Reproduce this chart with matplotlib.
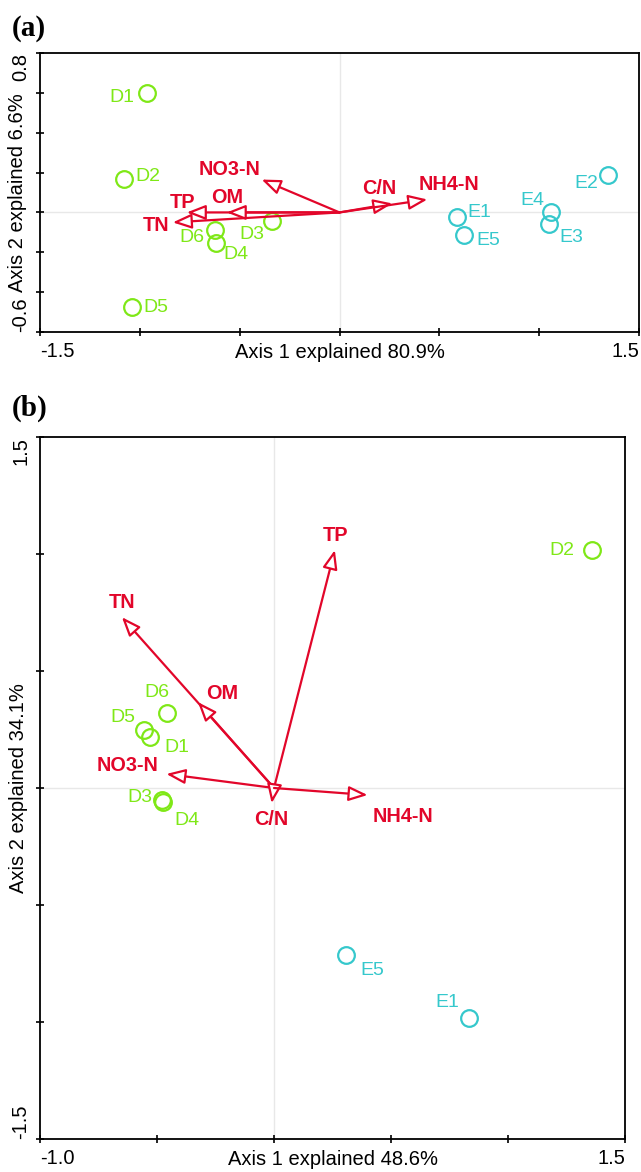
import matplotlib
matplotlib.use("Agg")
import matplotlib.pyplot as plt
from matplotlib.patches import FancyArrowPatch

plt.rcParams['font.family'] = ['Liberation Sans', 'DejaVu Sans']

RED = '#e2062a'
GREEN = '#7fe817'
CYAN = '#35c8cc'

# ---- panel (a) data ----
a_sites = ['D1', 'D2', 'D3', 'D4', 'D5', 'D6', 'E1', 'E2', 'E3', 'E4', 'E5']
a_x = [-0.965, -1.08, -0.34, -0.62, -1.04, -0.625, 0.59, 1.345, 1.05, 1.06, 0.625]
a_y = [0.60, 0.17, -0.045, -0.155, -0.475, -0.09, -0.025, 0.19, -0.06, 0.0, -0.115]

a_vars = ['TP', 'OM', 'TN', 'NO3-N', 'C/N', 'NH4-N']
a_vx = [-0.765, -0.565, -0.835, -0.39, 0.265, 0.44]
a_vy = [0.0, 0.0, -0.05, 0.165, 0.045, 0.065]

# ---- panel (b) data ----
b_sites = ['D1', 'D2', 'D3', 'D4', 'D5', 'D6', 'E1', 'E5']
b_x = [-0.53, 1.36, -0.48, -0.475, -0.556, -0.457, 0.833, 0.308]
b_y = [0.22, 1.017, -0.05, -0.06, 0.248, 0.32, -0.983, -0.714]

b_vars = ['TP', 'TN', 'OM', 'NO3-N', 'C/N', 'NH4-N']
b_vx = [0.26, -0.65, -0.325, -0.46, -0.01, 0.40]
b_vy = [1.017, 0.73, 0.367, 0.06, -0.065, -0.03]

# label offsets (pixels) for layout
a_site_off = {'D1': (-25, -5), 'D2': (24, 2), 'D3': (-20, -13), 'D4': (20, -11),
              'D5': (24, 0), 'D6': (-23, -7), 'E1': (22, 5), 'E2': (-22, -9),
              'E3': (22, -13), 'E4': (-19, 12), 'E5': (24, -5)}
a_var_off = {'TP': (-4, 10), 'OM': (0, 15), 'TN': (-17, -3), 'NO3-N': (-32, 10),
             'C/N': (-13, 15), 'NH4-N': (22, 15)}
b_site_off = {'D1': (27, -11), 'D2': (-30, 0), 'D3': (-22, 2), 'D4': (24, -18),
              'D5': (-21, 12), 'D6': (-10, 21), 'E1': (-22, 16), 'E5': (26, -15)}
b_var_off = {'TP': (1, 15), 'TN': (0, 15), 'OM': (24, 9), 'NO3-N': (-39, 8),
             'C/N': (0, -16), 'NH4-N': (35, -21)}


def draw_panel(ax, sites, xs, ys, site_off, vars_, vx, vy, var_off):
    ax.axhline(0, color='#e8e8e8', lw=1, zorder=0)
    ax.axvline(0, color='#e8e8e8', lw=1, zorder=0)
    for s, x, y in zip(sites, xs, ys):
        c = GREEN if s.startswith('D') else CYAN
        ax.plot(x, y, 'o', ms=12, mfc='none', mec=c, mew=1.6, zorder=3)
        ax.annotate(s, (x, y), xytext=site_off[s], textcoords='offset pixels',
                    ha='center', va='center', color=c, fontsize=14)
    for v, x, y in zip(vars_, vx, vy):
        arr = FancyArrowPatch((0, 0), (x, y), arrowstyle='-|>,head_length=1.15,head_width=0.45',
                              mutation_scale=10, shrinkA=0, shrinkB=0,
                              fc='white', ec=RED, lw=1.6, zorder=4)
        ax.add_patch(arr)
        ax.annotate(v, (x, y), xytext=var_off[v], textcoords='offset pixels',
                    ha='center', va='center', color=RED, fontsize=14.3, fontweight='bold')
    for sp in ax.spines.values():
        sp.set_linewidth(1.3)
    ax.tick_params(direction='inout', length=6, width=1.2, labelsize=14.5, pad=4)


fig = plt.figure(figsize=(6.41, 11.72), dpi=100)

# panel (a)
ax1 = fig.add_axes([40 / 641, 1 - 332 / 1172, 599 / 641, 279 / 1172])
draw_panel(ax1, a_sites, a_x, a_y, a_site_off, a_vars, a_vx, a_vy, a_var_off)
ax1.set_xlim(-1.5, 1.5)
ax1.set_ylim(-0.6, 0.8)
ax1.set_xticks([-1.5, -1.0, -0.5, 0, 0.5, 1.0, 1.5])
ax1.set_xticklabels(['-1.5', '', '', '', '', '', '1.5'])
ax1.set_yticks([-0.6, -0.4, -0.2, 0, 0.2, 0.4, 0.6, 0.8])
ax1.set_yticklabels(['-0.6', '', '', '', '', '', '', '0.8'], rotation=90)
ax1.set_xlabel('Axis 1 explained 80.9%', fontsize=14.5)
ax1.set_ylabel('Axis 2 explained 6.6%', fontsize=14.5)
ax1.xaxis.set_label_coords(0.5, -0.04)
ax1.yaxis.set_label_coords(-0.021, 0.5)

# panel (b)
ax2 = fig.add_axes([40 / 641, 1 - 1139 / 1172, 585 / 641, 702 / 1172])
draw_panel(ax2, b_sites, b_x, b_y, b_site_off, b_vars, b_vx, b_vy, b_var_off)
ax2.set_xlim(-1.0, 1.5)
ax2.set_ylim(-1.5, 1.5)
ax2.set_xticks([-1.0, -0.5, 0, 0.5, 1.0, 1.5])
ax2.set_xticklabels(['-1.0', '', '', '', '', '1.5'])
ax2.set_yticks([-1.5, -1.0, -0.5, 0, 0.5, 1.0, 1.5])
ax2.set_yticklabels(['-1.5', '', '', '', '', '', '1.5'], rotation=90)
ax2.set_xlabel('Axis 1 explained 48.6%', fontsize=14.5)
ax2.set_ylabel('Axis 2 explained 34.1%', fontsize=14.5)
ax2.xaxis.set_label_coords(0.5, -0.016)
ax2.yaxis.set_label_coords(-0.021, 0.5)

for ax in (ax1, ax2):
    xl = ax.get_xticklabels()
    xl[0].set_ha('left')
    xl[-1].set_ha('right')
    yl = ax.get_yticklabels()
    yl[0].set_va('bottom')
    yl[-1].set_va('top')

fig.text(12 / 641, 1 - 28 / 1172, '(a)', family='Liberation Serif', fontweight='bold',
         fontsize=21, va='center', ha='left')
fig.text(12 / 641, 1 - 408 / 1172, '(b)', family='Liberation Serif', fontweight='bold',
         fontsize=21, va='center', ha='left')

fig.savefig('out.png', dpi=100)
